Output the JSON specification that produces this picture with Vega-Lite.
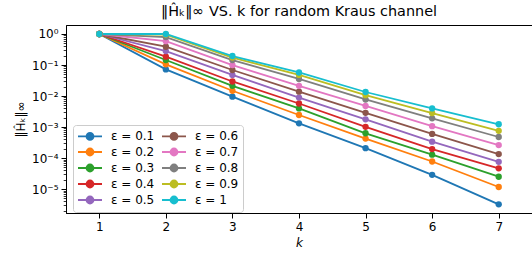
{
  "$schema": "https://vega.github.io/schema/vega-lite/v6.json",
  "width": 466,
  "height": 188,
  "autosize": {"type": "none"},
  "padding": {"left": 66, "top": 25, "right": 0, "bottom": 40},
  "background": "white",
  "config": {
    "font": "DejaVu Sans",
    "view": {"stroke": "black", "strokeWidth": 1},
    "axis": {
      "domainColor": "black",
      "domainWidth": 1,
      "tickColor": "black",
      "tickWidth": 1,
      "labelColor": "black",
      "titleColor": "black",
      "labelFont": "DejaVu Sans",
      "titleFont": "DejaVu Sans",
      "labelFontSize": 12,
      "titleFontSize": 12,
      "titleFontWeight": "normal",
      "grid": false
    }
  },
  "title": {
    "text": "‖Ĥₖ‖∞ VS. k for random Kraus channel",
    "font": "DejaVu Sans",
    "fontSize": 14.4,
    "fontWeight": "normal",
    "color": "black",
    "anchor": "middle",
    "offset": 6
  },
  "data": {
    "values": [
      {"eps": "ε = 0.1", "k": 1, "h": 1}, {"eps": "ε = 0.1", "k": 2, "h": 0.0724}, {"eps": "ε = 0.1", "k": 3, "h": 0.00955}, {"eps": "ε = 0.1", "k": 4, "h": 0.00132}, {"eps": "ε = 0.1", "k": 5, "h": 0.000209}, {"eps": "ε = 0.1", "k": 6, "h": 0.0000288}, {"eps": "ε = 0.1", "k": 7, "h": 0.00000324},
      {"eps": "ε = 0.2", "k": 1, "h": 1}, {"eps": "ε = 0.2", "k": 2, "h": 0.105}, {"eps": "ε = 0.2", "k": 3, "h": 0.0148}, {"eps": "ε = 0.2", "k": 4, "h": 0.00245}, {"eps": "ε = 0.2", "k": 5, "h": 0.000427}, {"eps": "ε = 0.2", "k": 6, "h": 0.0000776}, {"eps": "ε = 0.2", "k": 7, "h": 0.0000117},
      {"eps": "ε = 0.3", "k": 1, "h": 1}, {"eps": "ε = 0.3", "k": 2, "h": 0.145}, {"eps": "ε = 0.3", "k": 3, "h": 0.0214}, {"eps": "ε = 0.3", "k": 4, "h": 0.00398}, {"eps": "ε = 0.3", "k": 5, "h": 0.000631}, {"eps": "ε = 0.3", "k": 6, "h": 0.000129}, {"eps": "ε = 0.3", "k": 7, "h": 0.0000251},
      {"eps": "ε = 0.4", "k": 1, "h": 1}, {"eps": "ε = 0.4", "k": 2, "h": 0.186}, {"eps": "ε = 0.4", "k": 3, "h": 0.0295}, {"eps": "ε = 0.4", "k": 4, "h": 0.00575}, {"eps": "ε = 0.4", "k": 5, "h": 0.00102}, {"eps": "ε = 0.4", "k": 6, "h": 0.000195}, {"eps": "ε = 0.4", "k": 7, "h": 0.0000468},
      {"eps": "ε = 0.5", "k": 1, "h": 1}, {"eps": "ε = 0.5", "k": 2, "h": 0.282}, {"eps": "ε = 0.5", "k": 3, "h": 0.0479}, {"eps": "ε = 0.5", "k": 4, "h": 0.00891}, {"eps": "ε = 0.5", "k": 5, "h": 0.00178}, {"eps": "ε = 0.5", "k": 6, "h": 0.000339}, {"eps": "ε = 0.5", "k": 7, "h": 0.0000759},
      {"eps": "ε = 0.6", "k": 1, "h": 1}, {"eps": "ε = 0.6", "k": 2, "h": 0.389}, {"eps": "ε = 0.6", "k": 3, "h": 0.0692}, {"eps": "ε = 0.6", "k": 4, "h": 0.0138}, {"eps": "ε = 0.6", "k": 5, "h": 0.00288}, {"eps": "ε = 0.6", "k": 6, "h": 0.000603}, {"eps": "ε = 0.6", "k": 7, "h": 0.000135},
      {"eps": "ε = 0.7", "k": 1, "h": 1}, {"eps": "ε = 0.7", "k": 2, "h": 0.589}, {"eps": "ε = 0.7", "k": 3, "h": 0.1}, {"eps": "ε = 0.7", "k": 4, "h": 0.0214}, {"eps": "ε = 0.7", "k": 5, "h": 0.00479}, {"eps": "ε = 0.7", "k": 6, "h": 0.00107}, {"eps": "ε = 0.7", "k": 7, "h": 0.000263},
      {"eps": "ε = 0.8", "k": 1, "h": 1}, {"eps": "ε = 0.8", "k": 2, "h": 0.794}, {"eps": "ε = 0.8", "k": 3, "h": 0.145}, {"eps": "ε = 0.8", "k": 4, "h": 0.0355}, {"eps": "ε = 0.8", "k": 5, "h": 0.00776}, {"eps": "ε = 0.8", "k": 6, "h": 0.00191}, {"eps": "ε = 0.8", "k": 7, "h": 0.000479},
      {"eps": "ε = 0.9", "k": 1, "h": 1}, {"eps": "ε = 0.9", "k": 2, "h": 0.955}, {"eps": "ε = 0.9", "k": 3, "h": 0.174}, {"eps": "ε = 0.9", "k": 4, "h": 0.0479}, {"eps": "ε = 0.9", "k": 5, "h": 0.0107}, {"eps": "ε = 0.9", "k": 6, "h": 0.00282}, {"eps": "ε = 0.9", "k": 7, "h": 0.000759},
      {"eps": "ε = 1", "k": 1, "h": 1}, {"eps": "ε = 1", "k": 2, "h": 1.0}, {"eps": "ε = 1", "k": 3, "h": 0.195}, {"eps": "ε = 1", "k": 4, "h": 0.0575}, {"eps": "ε = 1", "k": 5, "h": 0.0135}, {"eps": "ε = 1", "k": 6, "h": 0.00398}, {"eps": "ε = 1", "k": 7, "h": 0.00123}
    ]
  },
  "encoding": {
    "x": {
      "field": "k",
      "type": "quantitative",
      "scale": {"domain": [0.5, 7.5], "nice": false, "zero": false},
      "axis": {
        "values": [1, 2, 3, 4, 5, 6, 7],
        "format": "d",
        "title": "k",
        "titleFontStyle": "italic",
        "tickSize": 5,
        "labelPadding": 3,
        "titlePadding": 5,
        "labelFlush": false
      }
    },
    "y": {
      "field": "h",
      "type": "quantitative",
      "scale": {"type": "log", "domain": [0.0000017, 1.95], "nice": false},
      "axis": {
        "title": "‖Ĥₖ‖∞",
        "titlePadding": 4,
        "labelPadding": 3,
        "labelOverlap": false,
        "labelFlush": false,
        "values": [0.000002, 0.000003, 0.000004, 0.000005, 0.000006, 0.000007, 0.000008, 0.000009,
                   0.00001, 0.00002, 0.00003, 0.00004, 0.00005, 0.00006, 0.00007, 0.00008, 0.00009,
                   0.0001, 0.0002, 0.0003, 0.0004, 0.0005, 0.0006, 0.0007, 0.0008, 0.0009,
                   0.001, 0.002, 0.003, 0.004, 0.005, 0.006, 0.007, 0.008, 0.009,
                   0.01, 0.02, 0.03, 0.04, 0.05, 0.06, 0.07, 0.08, 0.09,
                   0.1, 0.2, 0.3, 0.4, 0.5, 0.6, 0.7, 0.8, 0.9, 1],
        "labelExpr": "abs(log(datum.value)/LN10 - round(log(datum.value)/LN10)) > 0.001 ? '' : ['10⁰','10⁻¹','10⁻²','10⁻³','10⁻⁴','10⁻⁵','10⁻⁶'][-round(log(datum.value)/LN10)]",
        "tickSize": {"condition": {"test": "abs(log(datum.value)/LN10 - round(log(datum.value)/LN10)) > 0.001", "value": 2.8}, "value": 5},
        "tickWidth": {"condition": {"test": "abs(log(datum.value)/LN10 - round(log(datum.value)/LN10)) > 0.001", "value": 0.8}, "value": 1}
      }
    },
    "color": {
      "field": "eps",
      "type": "nominal",
      "scale": {
        "domain": ["ε = 0.1", "ε = 0.2", "ε = 0.3", "ε = 0.4", "ε = 0.5", "ε = 0.6", "ε = 0.7", "ε = 0.8", "ε = 0.9", "ε = 1"],
        "range": ["#1f77b4", "#ff7f0e", "#2ca02c", "#d62728", "#9467bd", "#8c564b", "#e377c2", "#7f7f7f", "#bcbd22", "#17becf"]
      },
      "legend": {
        "orient": "none",
        "legendX": 7,
        "legendY": 100,
        "columns": 2,
        "title": null,
        "labelFont": "DejaVu Sans",
        "labelFontSize": 12,
        "labelColor": "black",
        "symbolType": "M-2,0H2M-0.58,0A0.58,0.58,0,1,1,0.58,0A0.58,0.58,0,1,1,-0.58,0Z",
        "symbolSize": 144,
        "symbolStrokeWidth": 1.8,
        "symbolOffset": 6,
        "labelOffset": 14,
        "rowPadding": 0,
        "columnPadding": 3,
        "padding": 4,
        "strokeColor": "#cccccc",
        "fillColor": "rgba(255,255,255,0.8)",
        "cornerRadius": 3,
        "encode": {
          "symbols": {
            "update": {
              "fill": {"scale": "color", "field": "value"},
              "stroke": {"scale": "color", "field": "value"},
              "opacity": {"value": 1}
            }
          }
        }
      }
    }
  },
  "layer": [
    {"mark": {"type": "line", "strokeWidth": 1.8}},
    {"mark": {"type": "point", "filled": true, "size": 40, "opacity": 1}}
  ]
}
